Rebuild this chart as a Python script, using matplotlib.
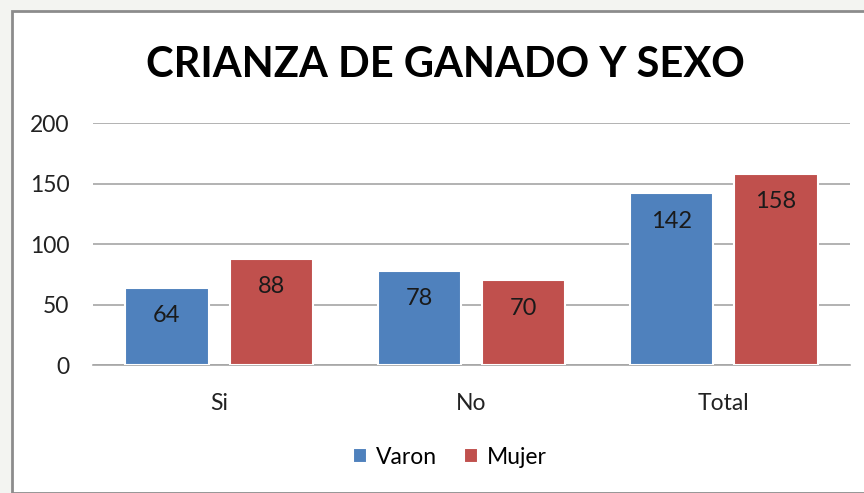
import numpy as np
import matplotlib.pyplot as plt
from matplotlib.patches import Rectangle

# data
categories = ['Si', 'No', 'Total']
varon = [64, 78, 142]
mujer = [88, 70, 158]

plt.rcParams['font.family'] = ['Lato', 'DejaVu Sans']

fig = plt.figure(figsize=(8.64, 4.93), dpi=100)
fig.patch.set_facecolor('#f3f4f1')

# white chart panel with grey border
fig.patches.append(Rectangle((12 / 864, 0), 1, 1 - 11 / 493, transform=fig.transFigure,
                             facecolor='white', edgecolor='#8c8c8c', linewidth=2, zorder=0))

ax = fig.add_axes([93 / 864, 0.2596, 757 / 864, 0.4909])
ax.set_zorder(2)
ax.set_facecolor('none')

x = np.arange(len(categories))
w = 0.33
off = 0.207
b1 = ax.bar(x - off, varon, w, color='#4f81bd', edgecolor='white', linewidth=1.5, label='Varon', zorder=3)
b2 = ax.bar(x + off, mujer, w, color='#c0504d', edgecolor='white', linewidth=1.5, label='Mujer', zorder=3)

for bars, vals in [(b1, varon), (b2, mujer)]:
    for b, v in zip(bars, vals):
        ax.text(b.get_x() + b.get_width() / 2, v - 23, str(v), ha='center', va='center',
                fontsize=17, color='#1a1a1a', zorder=4)

ax.set_xlim(-0.5, 2.5)
ax.set_ylim(0, 200)
ax.set_yticks([0, 50, 100, 150, 200])
ax.yaxis.grid(True, color='#a6a6a6', linewidth=1.2, zorder=0)
ax.set_axisbelow(True)
for s in ['top', 'right', 'left']:
    ax.spines[s].set_visible(False)
ax.spines['bottom'].set_color('#a6a6a6')
ax.spines['bottom'].set_linewidth(1.2)
ax.tick_params(length=0, labelsize=16.5, colors='#222222')
ax.tick_params(axis='y', pad=17)
ax.tick_params(axis='x', pad=20)
ax.set_xticks(x)
ax.set_xticklabels(categories)

fig.text(445 / 864, 1 - 65 / 493, 'CRIANZA DE GANADO Y SEXO', ha='center', va='center',
         fontsize=30, fontweight='bold', color='black')

fig.legend(handles=[b1, b2], labels=['Varon', 'Mujer'], loc='center', bbox_to_anchor=(450 / 864, 1 - 457 / 493),
           ncol=2, frameon=False, fontsize=16.5, handlelength=0.6, handleheight=0.6,
           handletextpad=0.4, columnspacing=1.2)

fig.savefig('out.png', dpi=100, facecolor=fig.get_facecolor())
